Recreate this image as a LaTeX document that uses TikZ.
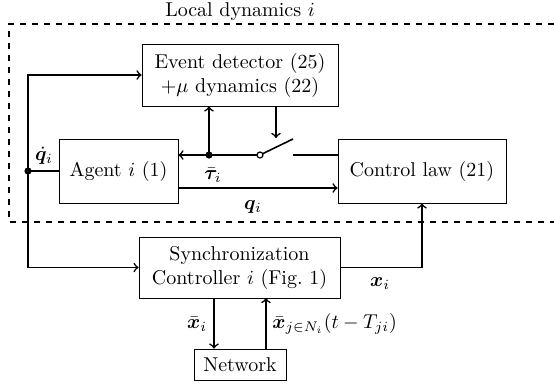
\documentclass[tikz,border=0pt]{standalone}
\usepackage{amsmath}
\usepackage{bm}
\begin{document}
\begin{tikzpicture}[x=0.5pt,y=-0.5pt,
  blk/.style={draw,thin,align=center,inner sep=0pt},
  con/.style={thick},
  arr/.style={thick,->},
  lbl/.style={inner sep=1pt}]
\useasboundingbox (0,0) rectangle (554,387);
% dashed frame
\draw[dashed,thick] (554,24) -- (9,24) -- (9,222) -- (554,222);
\node[lbl] (title) at (240,12) {Local dynamics $i$};
% blocks
\node[blk,minimum width=98pt,minimum height=31pt] (ed) at (240,75) {Event detector (25)\\$+\mu$ dynamics (22)};
\node[blk,minimum width=59.5pt,minimum height=32pt] (ag) at (118.5,171) {Agent $i$ (1)};
\node[blk,minimum width=84pt,minimum height=32pt] (cl) at (422,171) {Control law (21)};
\node[blk,minimum width=100.5pt,minimum height=30.5pt] (sc) at (239.5,267.5) {Synchronization\\Controller $i$ (Fig.~1)};
\node[blk,minimum width=46pt,minimum height=15.5pt] (nw) at (240,364.5) {Network};
% coordinates
\coordinate (lt) at (28,171);
\coordinate (sw) at (260,155);
\coordinate (td) at (209,155);
\coordinate (blade) at (293,139);
\coordinate (sr) at (293,155);
\coordinate (edo) at (276,106);
\coordinate (edt) at (276,138);
\coordinate (qa) at (178,188);
\coordinate (na) at (214,298);
\coordinate (nb) at (266,298);
% left feedback
\draw[con] (ag.west |- lt) -- (lt);
\draw[arr] (lt) |- (ed.west);
\draw[arr] (lt) |- (sc.west);
\fill (lt) circle (3.6);
% tau line with switch
\draw[arr] (sw) -- (ag.east |- sw);
\draw[arr] (td) -- (td |- ed.south);
\fill (td) circle (3.6);
\draw[arr] (edo) -- (edt);
\draw[con] (sw) -- (blade);
\draw[con] (sr) -- (cl.west |- sr);
\draw[semithick,fill=white] (sw) circle (3);
% q
\draw[arr] (qa) -- (cl.west |- qa);
% x_i
\draw[arr] (sc.east) -| (cl.south);
% network
\draw[arr] (na) -- (na |- nw.north);
\draw[arr] (nb |- nw.north) -- (nb);
% labels
\node[lbl] (lqd) at (44,156) {$\dot{\bm q}_i$};
\node[lbl] (ltau) at (213,175) {$\bar{\bm\tau}_i$};
\node[lbl] (lq) at (253,207) {$\bm q_i$};
\node[lbl] (lx) at (380,284) {$\bm x_i$};
\node[lbl] (lxb) at (197,324) {$\bar{\bm x}_i$};
\node[lbl,anchor=west] (lxj) at (270,324) {$\bar{\bm x}_{j\in N_i}(t-T_{ji})$};
\end{tikzpicture}
\end{document}
